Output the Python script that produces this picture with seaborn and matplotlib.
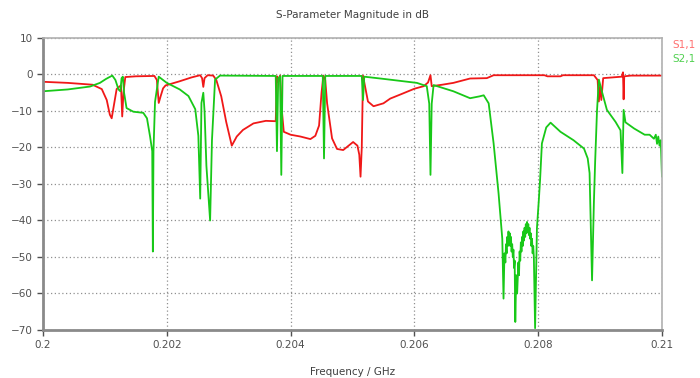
import numpy as np
import pandas as pd
import seaborn as sns
import matplotlib
matplotlib.use('Agg')
import matplotlib.pyplot as plt

# frequency in MHz above 200 MHz
s11_mhz = [0.00, 0.40, 0.80, 0.95, 1.03, 1.08, 1.11, 1.15, 1.19, 1.22, 1.26, 1.28, 1.30, 1.33,
           1.50, 1.80, 1.84, 1.87, 1.90, 1.94, 1.98, 2.20, 2.40, 2.54, 2.57, 2.59, 2.61, 2.66,
           2.75, 2.80, 2.88, 2.96, 3.05, 3.13, 3.23, 3.40, 3.60, 3.76, 3.78, 3.80, 3.83, 3.86,
           3.89, 4.00, 4.16, 4.32, 4.40, 4.46, 4.50, 4.53, 4.56, 4.59, 4.67, 4.75, 4.85, 5.01,
           5.08, 5.11, 5.13, 5.15, 5.17, 5.20, 5.25, 5.34, 5.50, 5.61, 5.80, 6.00, 6.15, 6.22,
           6.26, 6.28, 6.45, 6.63, 6.90, 7.17, 7.28, 8.10, 8.15, 8.36, 8.40, 8.90, 8.96, 8.98,
           9.00, 9.02, 9.05, 9.35, 9.37, 9.38, 9.39, 9.50, 10.0]
s11_db = [-2.0, -2.3, -2.8, -4.0, -7.0, -11.0, -12.0, -8.0, -4.0, -3.5, -3.0, -11.5, -5.0, -0.7,
          -0.5, -0.4, -1.5, -7.8, -6.0, -3.8, -3.0, -1.9, -0.8, -0.2, -1.0, -3.4, -1.0, -0.2,
          -0.3, -1.5, -6.0, -13.0, -19.5, -17.0, -15.2, -13.4, -12.7, -12.8, -0.5, -2.0, -0.3, -10.0,
          -15.7, -16.5, -17.0, -17.7, -16.8, -14.0, -5.0, -0.3, -1.5, -7.9, -17.5, -20.4, -20.7, -18.5,
          -19.5, -22.0, -28.0, -20.0, -0.3, -3.0, -7.4, -8.7, -7.9, -6.6, -5.3, -3.9, -3.2, -2.2,
          -0.2, -3.2, -2.8, -2.3, -1.1, -1.0, -0.2, -0.2, -0.5, -0.5, -0.2, -0.2, -1.5, -7.4,
          -3.0, -7.0, -1.0, -0.6, 0.6, -6.8, -0.5, -0.3, -0.3]

s21_mhz = [0.00, 0.40, 0.76, 0.92, 1.02, 1.12, 1.17, 1.22, 1.25, 1.27, 1.29, 1.31, 1.35, 1.46,
           1.62, 1.68, 1.73, 1.765, 1.775, 1.785, 1.81, 1.87, 2.00, 2.21, 2.35, 2.46, 2.51, 2.54,
           2.56, 2.59, 2.61, 2.64, 2.70, 2.73, 2.78, 2.86, 3.76, 3.78, 3.80, 3.83, 3.85, 3.87,
           4.52, 4.54, 4.56, 5.15, 5.17, 5.19, 5.50, 6.04, 6.20, 6.24, 6.26, 6.28, 6.31, 6.63,
           6.90, 7.05, 7.12, 7.20, 7.28, 7.36, 7.42, 7.44, 7.455, 7.47, 7.48, 7.49, 7.50, 7.51,
           7.52, 7.53, 7.54, 7.55, 7.56, 7.57, 7.58, 7.59, 7.60, 7.61, 7.62, 7.63, 7.645, 7.66,
           7.68, 7.69, 7.70, 7.71, 7.72, 7.73, 7.74, 7.75, 7.76, 7.77, 7.78, 7.79, 7.80, 7.81,
           7.82, 7.83, 7.84, 7.85, 7.86, 7.87, 7.88, 7.89, 7.90, 7.91, 7.92, 7.93, 7.95, 7.98,
           8.01, 8.03, 8.06, 8.13, 8.20, 8.36, 8.57, 8.74, 8.80, 8.83, 8.87, 8.90, 8.92, 8.95,
           8.98, 9.03, 9.11, 9.25, 9.33, 9.36, 9.38, 9.41, 9.55, 9.65, 9.72, 9.80, 9.87, 9.90,
           9.92, 9.94, 9.96, 9.98, 10.0]
s21_db = [-4.6, -4.1, -3.3, -2.3, -1.2, -0.3, -1.5, -4.1, -4.6, -1.0, -0.6, -5.0, -9.2, -10.2,
          -10.5, -12.0, -17.0, -21.0, -48.5, -21.0, -7.5, -0.6, -2.3, -4.1, -5.9, -9.5, -16.8, -34.0,
          -7.8, -5.0, -10.0, -25.0, -40.0, -18.0, -1.4, -0.3, -0.4, -21.0, -1.0, -0.5, -27.5, -0.4,
          -0.4, -23.0, -0.4, -0.4, -7.0, -0.6, -1.2, -2.3, -3.2, -8.0, -27.5, -8.0, -2.9, -4.6,
          -6.5, -6.0, -5.7, -7.9, -18.9, -32.6, -45.0, -61.4, -49.0, -51.5, -46.5, -49.0, -44.5, -47.0,
          -43.0, -46.0, -43.5, -47.0, -44.5, -48.5, -46.5, -50.0, -48.0, -53.0, -51.0, -67.8, -55.0, -60.0,
          -51.5, -55.0, -48.5, -51.0, -46.0, -48.5, -44.5, -47.0, -43.0, -45.5, -42.0, -44.5, -41.0, -43.5,
          -40.4, -43.0, -41.0, -44.0, -42.0, -45.0, -43.5, -47.0, -45.0, -49.0, -47.0, -50.0, -69.5, -42.0,
          -34.5, -29.0, -18.9, -14.5, -13.2, -15.7, -18.0, -20.3, -23.0, -27.0, -56.4, -35.0, -24.0, -10.0,
          -1.4, -4.7, -9.7, -13.0, -15.3, -27.0, -9.7, -13.1, -14.8, -15.8, -16.5, -16.5, -17.6, -16.5,
          -19.0, -17.0, -19.5, -18.0, -28.0]

df11 = pd.DataFrame({'freq': 0.2 + np.array(s11_mhz) / 1000, 'db': s11_db})
df21 = pd.DataFrame({'freq': 0.2 + np.array(s21_mhz) / 1000, 'db': s21_db})

sns.set_style('white')
plt.rcParams['font.family'] = ['DejaVu Sans']

fig = plt.figure(figsize=(7, 3.78), dpi=100)
ax = fig.add_axes([0.0614, 0.127, 0.8843, 0.7725])

sns.lineplot(data=df11, x='freq', y='db', ax=ax, color='#f01818', lw=1.3, estimator=None)
sns.lineplot(data=df21, x='freq', y='db', ax=ax, color='#18c818', lw=1.3, estimator=None)

ax.set_xlim(0.2, 0.21)
ax.set_ylim(-70, 10)
ax.set_xticks([0.2, 0.202, 0.204, 0.206, 0.208, 0.21])
ax.set_xticklabels(['0.2', '0.202', '0.204', '0.206', '0.208', '0.21'])
ax.set_yticks(range(-70, 11, 10))
ax.grid(True, color='#909090', linestyle=(0, (1, 2)), lw=0.9)
ax.tick_params(labelsize=7.5, colors='#505050', length=4, width=1, direction='out',
               left=True, bottom=True)

for side in ['left', 'bottom']:
    ax.spines[side].set_color('#8a8a8a')
    ax.spines[side].set_linewidth(2)
for side in ['top', 'right']:
    ax.spines[side].set_color('#b0b0b0')
    ax.spines[side].set_linewidth(1.2)

ax.set_xlabel('Frequency / GHz', fontsize=7.5, color='#404040', labelpad=12)
ax.set_ylabel('')
fig.text(0.503, 0.96, 'S-Parameter Magnitude in dB', ha='center', va='center',
         fontsize=7.5, color='#404040')
fig.text(0.96, 0.881, 'S1,1', color='#ff7070', fontsize=7.5, va='center')
fig.text(0.96, 0.843, 'S2,1', color='#50d050', fontsize=7.5, va='center')

fig.savefig('out.png', dpi=100, facecolor='white')
